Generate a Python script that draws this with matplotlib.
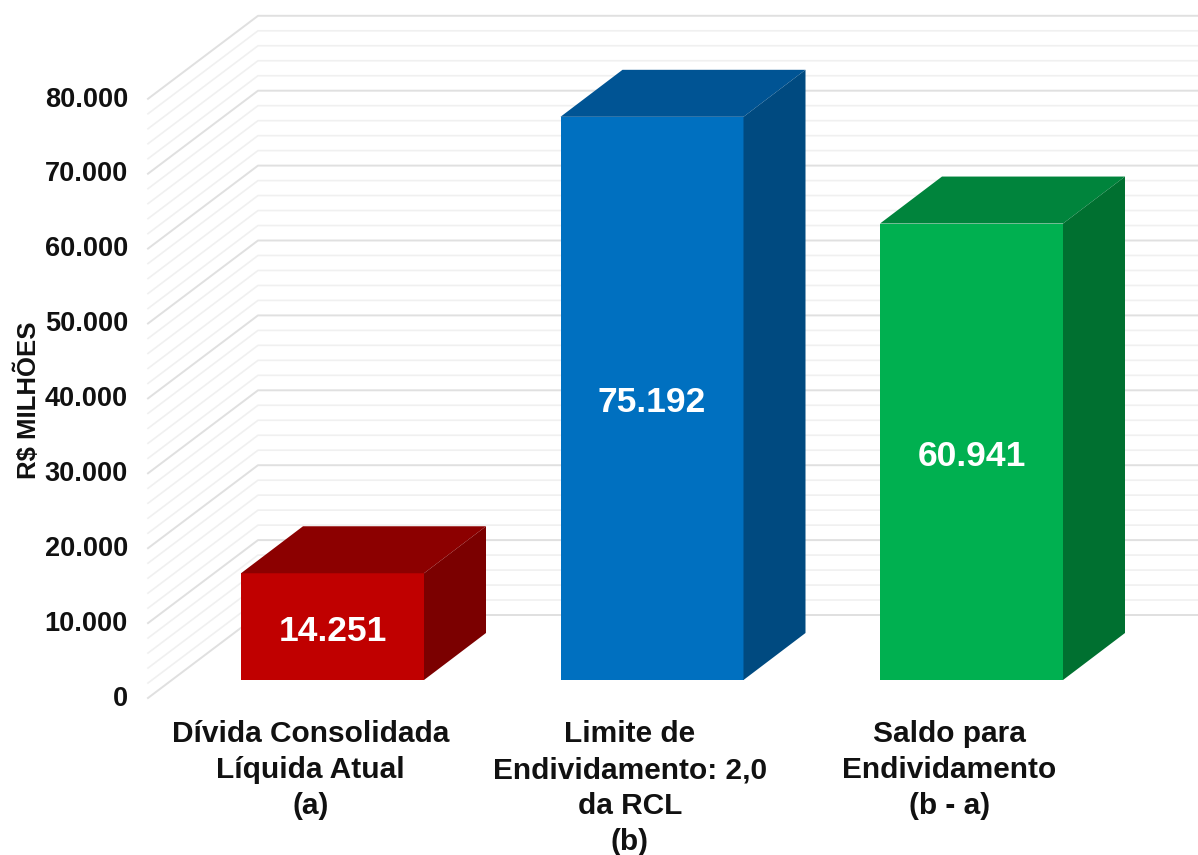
import matplotlib
matplotlib.use("Agg")
import matplotlib.pyplot as plt
from matplotlib.patches import Polygon

categories = ["Dívida Consolidada\nLíquida Atual\n(a)",
              "Limite de\nEndividamento: 2,0\nda RCL\n(b)",
              "Saldo para\nEndividamento\n(b - a)"]
values = [14251, 75192, 60941]
value_labels = ["14.251", "75.192", "60.941"]
tick_values = [0, 10000, 20000, 30000, 40000, 50000, 60000, 70000, 80000]
tick_labels = ["0", "10.000", "20.000", "30.000", "40.000", "50.000", "60.000", "70.000", "80.000"]
grid_values = list(range(0, 80001, 2000))
front_colors = ["#C00000", "#0070C0", "#00B050"]
top_colors = ["#8C0000", "#005494", "#00843C"]
side_colors = ["#7B0000", "#004A80", "#007030"]

plt.rcParams["font.family"] = ["Liberation Sans", "DejaVu Sans"]
plt.rcParams["font.weight"] = "bold"

PX_X = 319.5   # pixels per category
PX_Y = 0.00749  # pixels per R$ million

fig = plt.figure(figsize=(11.98, 8.55), dpi=100)
ax = fig.add_axes([0, 0, 1, 1])
ax.set_xlim(-332.5 / PX_X, (1198 - 332.5) / PX_X)
ax.set_ylim((698 - 855) / PX_Y, 698 / PX_Y)
ax.axis("off")

# chart wall, side wall goes back from the axis to the rear
wall_dx = 110 / PX_X
wall_dy = 83 / PX_Y
wall_x = (148 - 332.5) / PX_X
for v in grid_values:
    major = v % 10000 == 0
    color = "#E0E0E0" if major else "#F0F0F0"
    ax.plot([wall_x, wall_x + wall_dx, ax.get_xlim()[1]],
            [v, v + wall_dy, v + wall_dy],
            color=color, lw=1.4 if major else 1.2, zorder=1)

for v, label in zip(tick_values, tick_labels):
    ax.text((128 - 332.5) / PX_X, v - 100, label, ha="right", va="center",
            fontsize=19.5, color="#111111")

ax.text(28 / PX_X - 332.5 / PX_X, 39700, "R$ MILHÕES", rotation=90, ha="center", va="center",
        fontsize=18.5, color="#111111")

# bars as 3d boxes
bar_w = 183 / PX_X
depth_x = 62 / PX_X
depth_y = 47 / PX_Y
base = 18 / PX_Y
for i, v in enumerate(values):
    x0 = i - bar_w / 2
    x1 = i + bar_w / 2
    top = base + v
    ax.add_patch(Polygon([(x0, base), (x1, base), (x1, top), (x0, top)],
                         facecolor=front_colors[i], edgecolor="none", zorder=3))
    ax.add_patch(Polygon([(x0, top), (x1, top), (x1 + depth_x, top + depth_y), (x0 + depth_x, top + depth_y)],
                         facecolor=top_colors[i], edgecolor="none", zorder=3))
    ax.add_patch(Polygon([(x1, base), (x1 + depth_x, base + depth_y), (x1 + depth_x, top + depth_y), (x1, top)],
                         facecolor=side_colors[i], edgecolor="none", zorder=3))
    ax.text(i, base + v / 2 - 600, value_labels[i], ha="center", va="center",
            fontsize=25.5, color="white", zorder=4)

# category labels sit a bit left of the bar centres
for i, label in enumerate(categories):
    ax.text(i - 22 / PX_X, -3000, label, ha="center", va="top",
            fontsize=21.5, color="#111111", linespacing=1.36)

plt.savefig("out.png", dpi=100)
